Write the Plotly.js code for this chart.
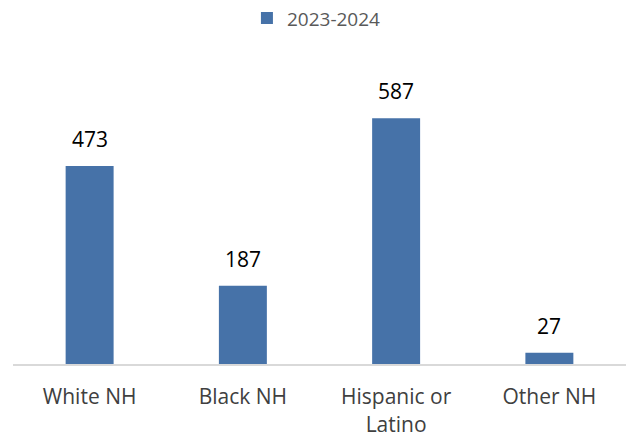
<!DOCTYPE html>
<html><head><meta charset="utf-8">
<script src="https://cdn.plot.ly/plotly-3.0.1.min.js"></script>
<style>html,body{margin:0;padding:0;background:#fff}#chart{width:630px;height:438px}</style>
</head><body><div id="chart"></div>
<script>
const categories = ["White NH", "Black NH", "Hispanic or Latino", "Other NH"];
const tickLabels = ["White NH", "Black NH", "Hispanic or<br>Latino", "Other NH"];
const values = [473, 187, 587, 27];
const seriesName = "2023-2024";

const FONT = "Open Sans, Noto Sans, sans-serif";
const trace = {
  type: "bar", x: categories, y: values, name: seriesName,
  marker: {color: "#4672a8"}, showlegend: true, hoverinfo: "none"
};
const annotations = categories.map((c, i) => ({
  x: c, y: values[i], xref: "x", yref: "y", text: String(values[i]),
  showarrow: false, yanchor: "bottom", yshift: 11,
  font: {family: FONT, size: 21, color: "#000"}
}));
const layout = {
  width: 630, height: 438,
  margin: {l: 13, r: 4, t: 71, b: 74, autoexpand: false},
  paper_bgcolor: "#fff", plot_bgcolor: "#fff",
  bargap: 0.687,
  showlegend: true,
  legend: {orientation: "h", x: 0.495, xanchor: "center", y: 1.18, yanchor: "middle",
    font: {family: FONT, size: 19, color: "#595959"}},
  xaxis: {tickvals: categories, ticktext: tickLabels, showline: true, linecolor: "#d9d9d9", linewidth: 2,
    ticks: "", showgrid: false, zeroline: false, fixedrange: true, automargin: false,
    ticklabelstandoff: 13,
    tickfont: {family: FONT, size: 21, color: "#404040"}},
  yaxis: {range: [0, 700], visible: false, showgrid: false, zeroline: false, fixedrange: true, automargin: false},
  annotations: annotations
};
Plotly.newPlot("chart", [trace], layout, {displayModeBar: false, staticPlot: true});
</script></body></html>
